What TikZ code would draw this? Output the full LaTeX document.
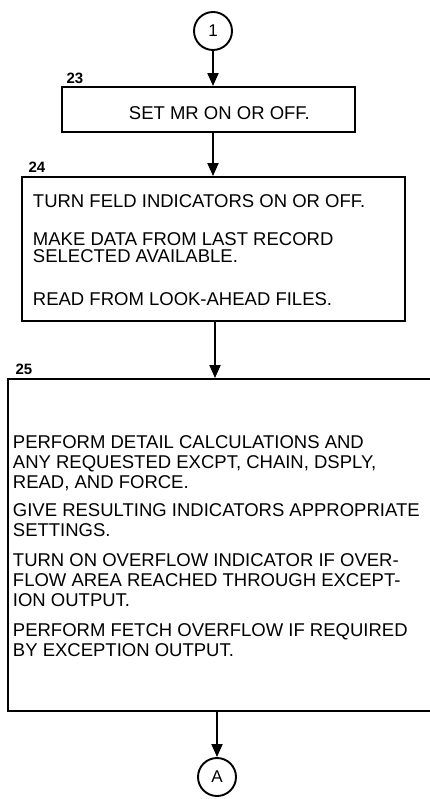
\documentclass[tikz,border=0pt]{standalone}
\usepackage{fontspec}
\setmainfont{Liberation Sans}
\usetikzlibrary{arrows.meta}

\begin{document}
\begin{tikzpicture}[x=1pt,y=-1pt,
  line width=1.9pt,
  box/.style={draw, rectangle, inner sep=0pt, line width=1.9pt},
  conn/.style={draw, circle, inner sep=0pt, minimum size=38pt, line width=1.9pt,
               font=\fontsize{17}{17}\selectfont},
  txt/.style={inner sep=0pt, anchor=north west, align=left},
  stepno/.style={inner sep=0pt, font=\bfseries\fontsize{15}{15}\selectfont},
  flow/.style={-{Triangle[width=11pt,length=13pt]}, line width=1.9pt}]

  \clip (0,0) rectangle (430,799);
  \fill[white] (0,0) rectangle (430,799);

  % off-page connectors
  \node[conn] (c1) at (213,31) {1};
  \node[conn] (cA) at (217,777) {A};

  % process boxes
  \node[box, minimum width=293pt, minimum height=45pt]  (b23) at (208.5,109.5) {};
  \node[box, minimum width=383pt, minimum height=144pt] (b24) at (213.5,249) {};
  \node[box, minimum width=437pt, minimum height=332pt] (b25) at (226.5,545) {};

  % step numbers
  \node[stepno] (n23) at (75,78)  {23};
  \node[stepno] (n24) at (37,167) {24};
  \node[stepno] (n25) at (24,369) {25};

  % box contents
  \node[txt, font=\fontsize{18.5}{17}\selectfont] (t23) at (128,105.4)
    {SET MR ON OR OFF.};

  \node[txt, font=\fontsize{18.5}{17}\selectfont] (t24) at (32,193.4)
    {TURN FELD INDICATORS ON OR OFF.\\[21pt]
     MAKE DATA FROM LAST RECORD\\
     SELECTED AVAILABLE.\\[26pt]
     READ FROM LOOK-AHEAD FILES.};

  \node[txt, font=\fontsize{18.5}{20}\selectfont] (t25) at (12,434.4)
    {PERFORM DETAIL CALCULATIONS AND\\
     ANY REQUESTED EXCPT, CHAIN, DSPLY,\\
     READ, AND FORCE.\\[8pt]
     GIVE RESULTING INDICATORS APPROPRIATE\\
     SETTINGS.\\[10pt]
     TURN ON OVERFLOW INDICATOR IF OVER-\\
     FLOW AREA REACHED THROUGH EXCEPT-\\
     ION OUTPUT.\\[10pt]
     PERFORM FETCH OVERFLOW IF REQUIRED\\
     BY EXCEPTION OUTPUT.};

  % flow lines
  \draw[flow] (c1.south) -- (c1.south |- b23.north);
  \draw[flow] (c1 |- b23.south) -- (c1 |- b24.north);
  \draw[flow] ([xshift=1.5pt]b24.south) -- ([xshift=1.5pt]b24.south |- b25.north);
  \draw[flow] (cA |- b25.south) -- (cA.north);
\end{tikzpicture}
\end{document}
